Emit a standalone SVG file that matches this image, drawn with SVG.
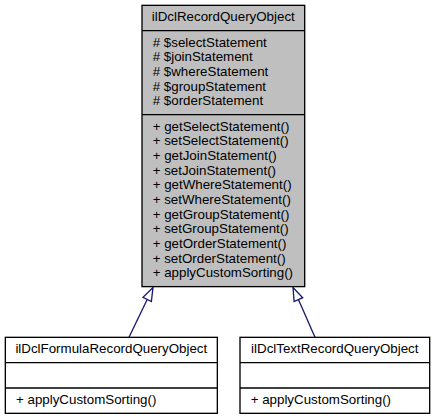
<svg xmlns="http://www.w3.org/2000/svg" width="435" height="419" viewBox="0 0 435 419">
<style>
  .box { stroke: #000; stroke-width: 1.33; }
  .sep { stroke: #000; stroke-width: 1.33; fill: none; }
  .t { font-family: "Liberation Sans", Arial, Helvetica, sans-serif; font-size: 13.33px; fill: #000; }
  .c { text-anchor: middle; }
  .edge { stroke: #191970; stroke-width: 1.33; fill: none; }
  .head { stroke: #191970; stroke-width: 1.33; fill: #fff; }
</style>
<rect width="435" height="419" fill="#fff"/>
<g id="connectors">
  <line class="edge" x1="129" y1="337.3" x2="147.2" y2="299.5"/>
  <polygon class="head" points="153,287.5 151.4,301.5 143,297.4"/>
  <line class="edge" x1="315" y1="337.3" x2="298.4" y2="299.6"/>
  <polygon class="head" points="293,287.5 302.7,297.7 294.1,301.5"/>
</g>
<g id="ilDclRecordQueryObject">
  <rect class="box" x="142" y="5.33" width="162.7" height="281.3" fill="#bfbfbf"/>
  <line class="sep" x1="142" y1="30.67" x2="304.7" y2="30.67"/>
  <line class="sep" x1="142" y1="114.67" x2="304.7" y2="114.67"/>
  <text class="t c" x="223.3" y="21.3">ilDclRecordQueryObject</text>
  <text class="t" x="152.7" y="46.7"># $selectStatement</text>
  <text class="t" x="152.7" y="61.3"># $joinStatement</text>
  <text class="t" x="152.7" y="76"># $whereStatement</text>
  <text class="t" x="152.7" y="90.7"># $groupStatement</text>
  <text class="t" x="152.7" y="105.3"># $orderStatement</text>
  <text class="t" x="152.7" y="130.7">+ getSelectStatement()</text>
  <text class="t" x="152.7" y="145.3">+ setSelectStatement()</text>
  <text class="t" x="152.7" y="160">+ getJoinStatement()</text>
  <text class="t" x="152.7" y="174.7">+ setJoinStatement()</text>
  <text class="t" x="152.7" y="189.3">+ getWhereStatement()</text>
  <text class="t" x="152.7" y="204">+ setWhereStatement()</text>
  <text class="t" x="152.7" y="218.7">+ getGroupStatement()</text>
  <text class="t" x="152.7" y="233.3">+ setGroupStatement()</text>
  <text class="t" x="152.7" y="248">+ getOrderStatement()</text>
  <text class="t" x="152.7" y="262.7">+ setOrderStatement()</text>
  <text class="t" x="152.7" y="277.3">+ applyCustomSorting()</text>
</g>
<g id="ilDclFormulaRecordQueryObject">
  <rect class="box" x="5.33" y="337.33" width="212" height="76" fill="#fff"/>
  <line class="sep" x1="5.33" y1="362.67" x2="217.33" y2="362.67"/>
  <line class="sep" x1="5.33" y1="388" x2="217.33" y2="388"/>
  <text class="t c" x="111.3" y="353.3">ilDclFormulaRecordQueryObject</text>
  <text class="t" x="16" y="404">+ applyCustomSorting()</text>
</g>
<g id="ilDclTextRecordQueryObject">
  <rect class="box" x="240" y="337.33" width="189.7" height="76" fill="#fff"/>
  <line class="sep" x1="240" y1="362.67" x2="429.7" y2="362.67"/>
  <line class="sep" x1="240" y1="388" x2="429.7" y2="388"/>
  <text class="t c" x="334.8" y="353.3">ilDclTextRecordQueryObject</text>
  <text class="t" x="250.7" y="404">+ applyCustomSorting()</text>
</g>
</svg>
